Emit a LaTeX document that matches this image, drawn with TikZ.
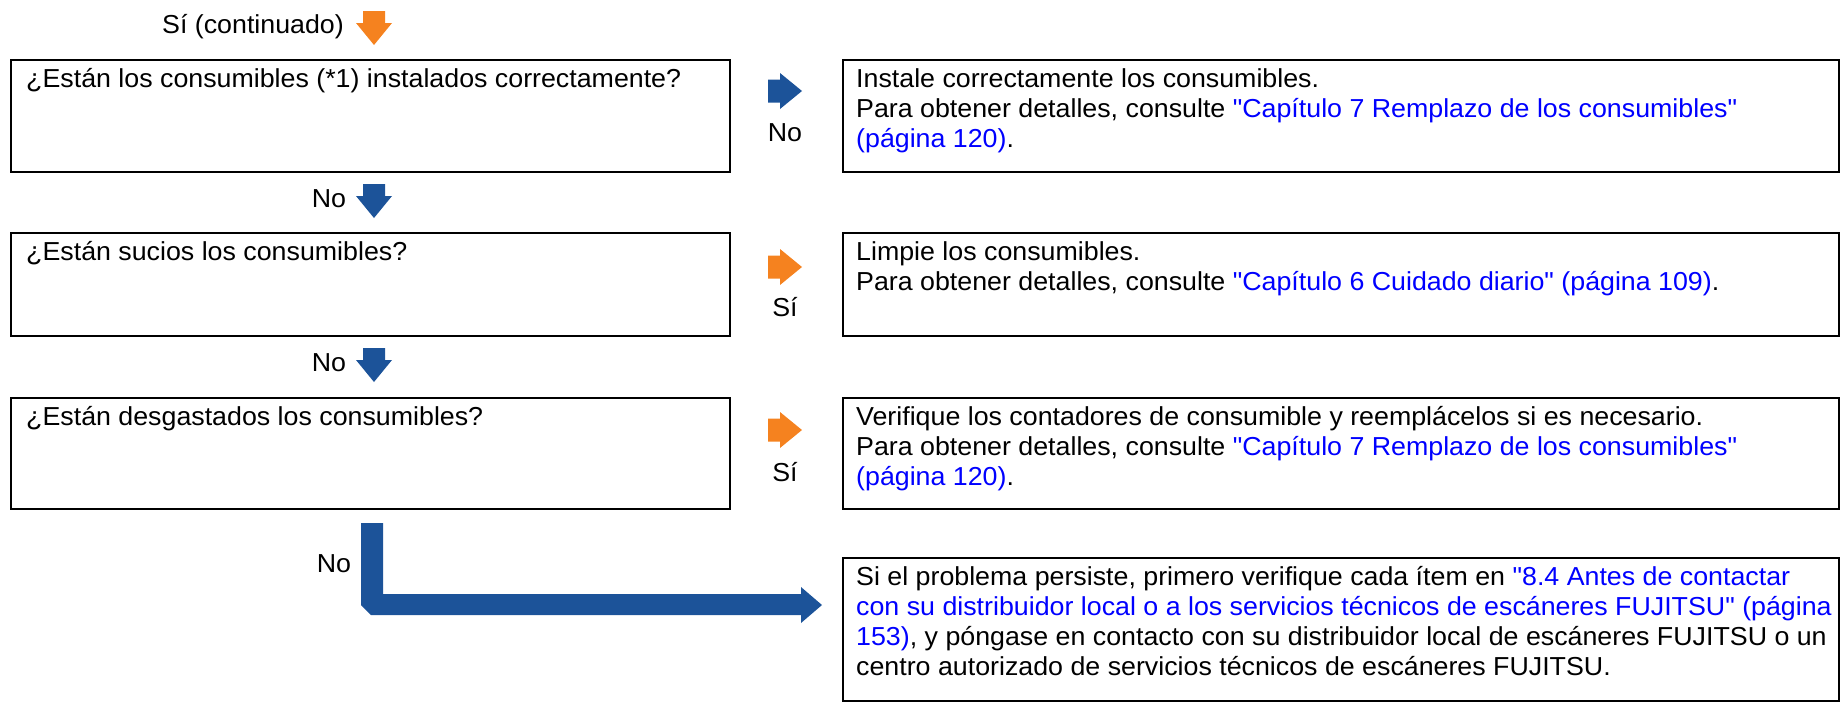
\documentclass[tikz,border=0pt]{standalone}
\usepackage{fontspec}
\newfontfamily\diagfont{Liberation Sans}[FakeStretch=1.03]
\definecolor{arrowblue}{HTML}{1C5399}
\definecolor{arroworange}{HTML}{F5821F}
\definecolor{linkblue}{HTML}{0000FF}
\newcommand\lnk[1]{\textcolor{linkblue}{#1}}
\newcommand\rarrowshape[2]{\fill[#1] (768,#2) ++(0,-11.5) -- ++(12,0) -- ++(0,-6.5) -- ++(22,18) -- ++(-22,18) -- ++(0,-6.5) -- ++(-12,0) -- cycle;}
\newcommand\darrowshape[2]{\fill[#1] (363,#2) -- ++(22,0) -- ++(0,12) -- ++(7,0) -- ++(-18,22) -- ++(-18,-22) -- ++(7,0) -- cycle;}
\begin{document}
\begin{tikzpicture}[x=1pt,y=-1pt,
  box/.style={draw=black, line width=2pt, inner sep=0pt, anchor=north west},
  txt/.style={anchor=north west, inner sep=0pt, align=left, font={\fontsize{26}{30}\diagfont}},
  lbl/.style={inner sep=0pt, font={\fontsize{26}{30}\diagfont}},
  blueA/.style={fill=arrowblue},
  orangeA/.style={fill=arroworange}]
\useasboundingbox (0,0) rectangle (1840,702);

% boxes
\node[box, minimum width=719pt, minimum height=112pt] (q1) at (10,59) {};
\node[box, minimum width=719pt, minimum height=103pt] (q2) at (10,232) {};
\node[box, minimum width=719pt, minimum height=111pt] (q3) at (10,397) {};
\node[box, minimum width=996pt, minimum height=112pt] (a1) at (842,59) {};
\node[box, minimum width=996pt, minimum height=103pt] (a2) at (842,232) {};
\node[box, minimum width=996pt, minimum height=111pt] (a3) at (842,397) {};
\node[box, minimum width=996pt, minimum height=143pt] (a4) at (842,557) {};

% texts
\node[txt] (tq1) at (26,66) {\strut¿Están los consumibles (*1) instalados correctamente?};
\node[txt] (tq2) at (26,239) {\strut¿Están sucios los consumibles?};
\node[txt] (tq3) at (26,404) {\strut¿Están desgastados los consumibles?};
\node[txt] (ta1) at (856,66) {\strut Instale correctamente los consumibles.\\
Para obtener detalles, consulte \lnk{"Capítulo 7 Remplazo de los consumibles"}\\
\lnk{(página 120)}.};
\node[txt] (ta2) at (856,239) {\strut Limpie los consumibles.\\
Para obtener detalles, consulte \lnk{"Capítulo 6 Cuidado diario" (página 109)}.};
\node[txt] (ta3) at (856,404) {\strut Verifique los contadores de consumible y reemplácelos si es necesario.\\
Para obtener detalles, consulte \lnk{"Capítulo 7 Remplazo de los consumibles"}\\
\lnk{(página 120)}.};
\node[txt] (ta4) at (856,564) {\strut Si el problema persiste, primero verifique cada ítem en \lnk{"8.4 Antes de contactar}\\
\lnk{con su distribuidor local o a los servicios técnicos de escáneres FUJITSU" (página}\\
\lnk{153)}, y póngase en contacto con su distribuidor local de escáneres FUJITSU o un\\
centro autorizado de servicios técnicos de escáneres FUJITSU.};

% labels
\node[lbl] (l0) at (253,27) {Sí (continuado)};
\node[lbl] (l1) at (785,133) {No};
\node[lbl] (l2) at (329,199) {No};
\node[lbl] (l3) at (785,307) {Sí};
\node[lbl] (l4) at (329,363) {No};
\node[lbl] (l5) at (785,472) {Sí};
\node[lbl] (l6) at (334,564) {No};

% arrows
\darrowshape{orangeA}{11}
\darrowshape{blueA}{184}
\darrowshape{blueA}{348}
\rarrowshape{blueA}{91}
\rarrowshape{orangeA}{267}
\rarrowshape{orangeA}{430}

% bent arrow from q3 to a4
\coordinate (bstart) at (361,523);
\fill[blueA] (bstart) -- (383,523) -- (383,594) -- (801,594) -- (801,587) -- (822,605) -- (801,623) -- (801,615) -- (371,615) -- (361,605) -- cycle;
\end{tikzpicture}
\end{document}
